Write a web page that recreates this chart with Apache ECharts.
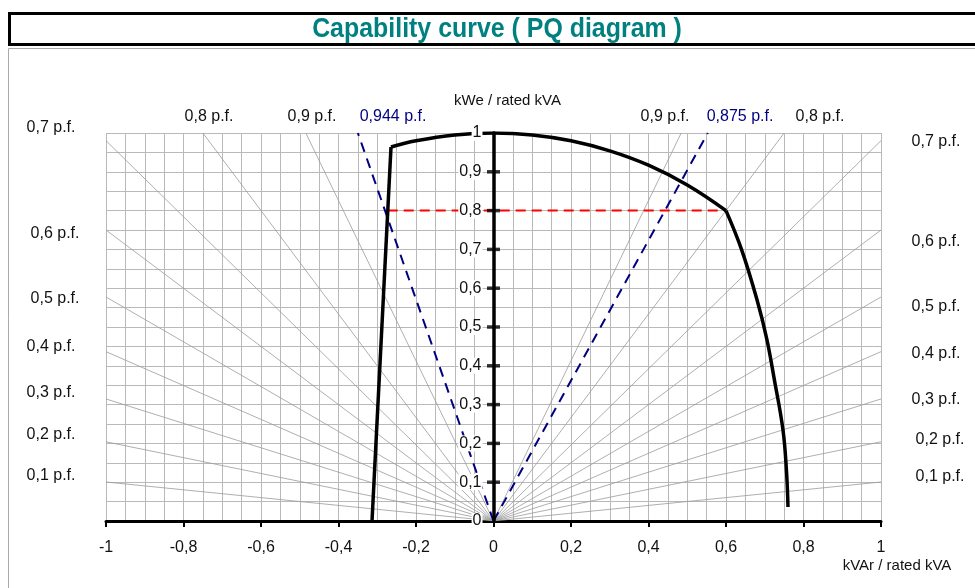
<!DOCTYPE html>
<html>
<head>
<meta charset="utf-8">
<script src="https://cdn.jsdelivr.net/npm/echarts@6/dist/echarts.min.js"></script>
<style>
html,body{margin:0;padding:0;background:#fff;}
#chart{width:975px;height:588px;}
</style>
</head>
<body>
<div id="chart"></div>
<script>
// ---- data ----
const titleText = 'Capability curve ( PQ diagram )';
const xName = 'kVAr / rated kVA';
const yName = 'kWe / rated kVA';
const powerFactors = [0.1, 0.2, 0.3, 0.4, 0.5, 0.6, 0.7, 0.8, 0.9];
const yTickValues = [0.1, 0.2, 0.3, 0.4, 0.5, 0.6, 0.7, 0.8, 0.9];
// capability limits (Q, P)
const underExcitedLimit = [[-0.3135, 0], [-0.2645, 0.964]];
const statorLimit = [[-0.2645, 0.964], [-0.2, 0.98], [-0.1, 0.995], [0, 1], [0.1, 0.995], [0.2, 0.98], [0.3, 0.954], [0.4, 0.917], [0.5, 0.866], [0.6, 0.8]];
const rotorLimit = [[0.6, 0.8], [0.64, 0.7], [0.68, 0.57], [0.705, 0.47], [0.725, 0.363], [0.747, 0.235], [0.756, 0.13], [0.76, 0.036]];
const leadingPfLine = [[0, 0], [-0.35, 1]];   // 0,944 p.f.
const laggingPfLine = [[0, 0], [0.553, 1]];   // 0,875 p.f.
const ratedPowerLine = [[-0.273, 0.8], [0.6, 0.8]];
const pfLabelsLeft = ['0,7 p.f.', '0,6 p.f.', '0,5 p.f.', '0,4 p.f.', '0,3 p.f.', '0,2 p.f.', '0,1 p.f.'];
const pfLabelsTop = ['0,8 p.f.', '0,9 p.f.', '0,944 p.f.', '0,9 p.f.', '0,875 p.f.', '0,8 p.f.'];
const pfLabelsRight = ['0,7 p.f.', '0,6 p.f.', '0,5 p.f.', '0,4 p.f.', '0,3 p.f.', '0,2 p.f.', '0,1 p.f.'];

// ---- layout ----
const leftPos = [[51,128],[55,234],[55,299],[51,347],[51,393],[51,435],[51,476]];
const topPos = [[209,117],[312,117],[393,117],[665,117],[740,117],[820,117]];
const topColors = ['#111','#111','#000080','#111','#000080','#111'];
const rightPos = [[936,142],[936,242],[936,307],[936,354],[936,400],[940,440],[940,477]];
const GRID = {left: 106, right: 94, top: 133, bottom: 67};
const plotWidth = 975 - GRID.left - GRID.right;

const comma = v => String(Math.round(v * 100) / 100).replace('.', ',');
const FONT = '"Liberation Sans", Arial, sans-serif';

// pf radial lines (end where the line leaves the frame)
const pfLines = [];
powerFactors.forEach(pf => {
  const s = pf / Math.sqrt(1 - pf * pf);
  const end = s <= 1 ? [1, s] : [1 / s, 1];
  pfLines.push({coords: [[0, 0], [-end[0], end[1]]]});
  pfLines.push({coords: [[0, 0], [end[0], end[1]]]});
});

const graphics = [
  {type: 'rect', z: 0, silent: true, shape: {x: 8.5, y: 48.5, width: 1000, height: 600}, style: {fill: 'none', stroke: '#aaa', lineWidth: 1}},
  {type: 'rect', z: 0, silent: true, shape: {x: 9.5, y: 13.5, width: 1000, height: 31}, style: {fill: '#fff', stroke: '#000', lineWidth: 3}},
  {type: 'text', z: 10, silent: true, x: 497, y: 29, scaleX: 0.89, scaleY: 1,
    style: {text: titleText, fill: '#008080', font: 'bold 28px ' + FONT, align: 'center', verticalAlign: 'middle'}}
];
function addText(txt, p, color) {
  graphics.push({type: 'text', x: p[0], y: p[1], z: 10, silent: true,
    style: {text: txt, fill: color || '#111', font: '16px ' + FONT, align: 'center', verticalAlign: 'middle'}});
}
pfLabelsLeft.forEach((t, i) => addText(t, leftPos[i]));
pfLabelsTop.forEach((t, i) => addText(t, topPos[i], topColors[i]));
pfLabelsRight.forEach((t, i) => addText(t, rightPos[i]));

const chart = echarts.init(document.getElementById('chart'), null, {renderer: 'canvas'});
const curveStyle = {color: '#000', width: 3.5};
chart.setOption({
  animation: false,
  backgroundColor: '#fff',
  graphic: graphics,
  grid: {left: GRID.left, right: GRID.right, top: GRID.top, bottom: GRID.bottom, containLabel: false},
  xAxis: [
    {type: 'value', min: -1, max: 1, interval: 0.05, position: 'bottom',
      axisLine: {show: false, onZero: false}, axisTick: {show: false}, axisLabel: {show: false},
      splitLine: {show: true, lineStyle: {color: '#b9b9b9', width: 1}}},
    {type: 'value', min: -1, max: 1, interval: 0.2, position: 'bottom',
      name: xName, nameLocation: 'end', nameGap: 16,
      nameTextStyle: {color: '#111', fontSize: 15, fontFamily: FONT, align: 'center', verticalAlign: 'top', padding: [37, 0, 0, 0]},
      axisLine: {show: true, onZero: false, lineStyle: {color: '#000', width: 3}},
      axisTick: {show: true, inside: false, length: 6, lineStyle: {color: '#000', width: 2}},
      axisLabel: {show: true, margin: 19, color: '#111', fontSize: 16, fontFamily: FONT, formatter: comma},
      splitLine: {show: false}}
  ],
  yAxis: [
    {type: 'value', min: 0, max: 1, interval: 0.05,
      axisLine: {show: false, onZero: false}, axisTick: {show: false}, axisLabel: {show: false},
      splitLine: {show: true, lineStyle: {color: '#b9b9b9', width: 1}}},
    {type: 'value', min: 0, max: 1, interval: 0.1, position: 'left', offset: -plotWidth / 2, z: 6,
      name: yName, nameLocation: 'end', nameGap: 25,
      nameTextStyle: {color: '#111', fontSize: 15, fontFamily: FONT, align: 'center', verticalAlign: 'bottom', padding: [0, 0, 0, 28]},
      axisLine: {show: true, onZero: false, lineStyle: {color: '#000', width: 3.5}},
      axisTick: {show: false},
      axisLabel: {show: true, margin: 11, color: '#111', fontSize: 16, fontFamily: FONT, formatter: comma,
        backgroundColor: '#fff', padding: [0, 1, 0, 1]},
      splitLine: {show: false}}
  ],
  series: [
    {type: 'lines', coordinateSystem: 'cartesian2d', xAxisIndex: 0, yAxisIndex: 0, silent: true, z: 1,
      lineStyle: {color: '#9a9a9a', width: 0.8, opacity: 1}, data: pfLines},
    {type: 'line', data: ratedPowerLine, xAxisIndex: 0, yAxisIndex: 0, symbol: 'none', z: 3,
      lineStyle: {color: '#ff0000', width: 2, type: [10, 6]}},
    {type: 'line', data: leadingPfLine, xAxisIndex: 0, yAxisIndex: 0, symbol: 'none', z: 3,
      lineStyle: {color: '#000080', width: 2, type: [10, 7]}},
    {type: 'line', data: laggingPfLine, xAxisIndex: 0, yAxisIndex: 0, symbol: 'none', z: 3,
      lineStyle: {color: '#000080', width: 2, type: [10, 7]}},
    {type: 'line', data: underExcitedLimit, xAxisIndex: 0, yAxisIndex: 0, symbol: 'none', z: 4, lineStyle: curveStyle},
    {type: 'line', data: statorLimit, xAxisIndex: 0, yAxisIndex: 0, symbol: 'none', smooth: 0.4, z: 4, lineStyle: curveStyle},
    {type: 'line', data: rotorLimit, xAxisIndex: 0, yAxisIndex: 0, symbol: 'none', smooth: 0.4, z: 4, lineStyle: curveStyle},
    {type: 'scatter', data: yTickValues.map(v => [0, v]), xAxisIndex: 0, yAxisIndex: 0, symbol: 'rect', symbolSize: [13, 3.5], z: 7,
      itemStyle: {color: '#000'}, silent: true}
  ]
});
</script>
</body>
</html>
